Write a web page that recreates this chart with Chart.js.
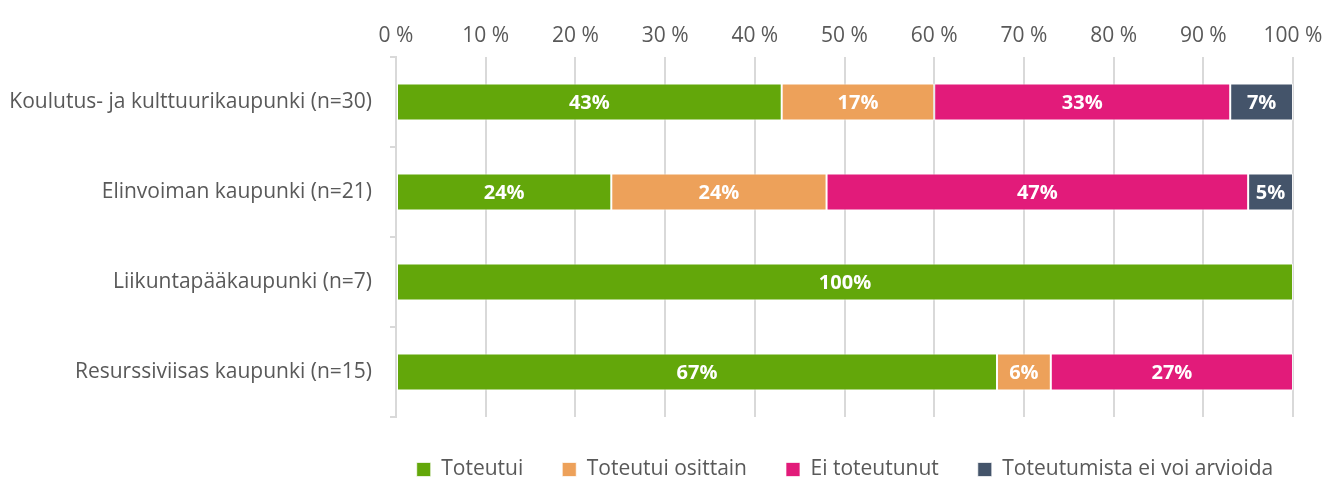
<!DOCTYPE html>
<html>
<head>
<meta charset="utf-8">
<script src="https://cdn.jsdelivr.net/npm/chart.js@4"></script>
<style>
    body { margin: 0; background: #fff; }
</style>
</head>
<body>
<canvas id="chart" width="1326" height="480"></canvas>
<script>
const categories = [
    "Koulutus- ja kulttuurikaupunki (n=30)",
    "Elinvoiman kaupunki (n=21)",
    "Liikuntapääkaupunki (n=7)",
    "Resurssiviisas kaupunki (n=15)",
];

const seriesNames = ["Toteutui", "Toteutui osittain", "Ei toteutunut", "Toteutumista ei voi arvioida"];

const toteutui = [43, 24, 100, 67];
const osittain = [17, 24, 0, 6];
const eiToteutunut = [33, 47, 0, 27];
const eiArvioida = [7, 5, 0, 0];

const xTicks = [0, 10, 20, 30, 40, 50, 60, 70, 80, 90, 100];

const colors = ["#63a70a", "#eda15a", "#e21b7a", "#44546a"];
const textColor = "#595959";
const fontFamily = "'Open Sans', sans-serif";

// white value labels in the middle of each segment
const barLabels = {
    id: "barLabels",
    afterDatasetsDraw(chart) {
        const ctx = chart.ctx;
        ctx.save();
        ctx.font = "bold 20px " + fontFamily;
        ctx.fillStyle = "#ffffff";
        ctx.textAlign = "center";
        ctx.textBaseline = "middle";
        chart.data.datasets.forEach((ds, i) => {
            const meta = chart.getDatasetMeta(i);
            meta.data.forEach((bar, j) => {
                const value = ds.data[j];
                if (!value) {
                    return;
                }
                const center = bar.getCenterPoint();
                ctx.fillText(value + "%", center.x, center.y + 1);
            });
        });
        ctx.restore();
    },
};

// one legend row under the plot, a bit wider than the plot area
const legendRow = {
    id: "legendRow",
    afterInit(chart) {
        const legend = chart.legend;
        const fit = legend.fit.bind(legend);
        const draw = legend.draw.bind(legend);
        legend.fit = function () {
            this.maxWidth = 1326;
            fit();
            this.height = 63;
        };
        legend.draw = function () {
            const left = this.left;
            const right = this.right;
            const top = this.top;
            this.left = 364;
            this.right = 1326;
            this.top = top + 3;
            draw();
            this.left = left;
            this.right = right;
            this.top = top;
        };
    },
};

const seriesData = [toteutui, osittain, eiToteutunut, eiArvioida];

new Chart(document.getElementById("chart"), {
    type: "bar",
    data: {
        labels: categories,
        datasets: seriesNames.map((name, i) => ({
            label: name,
            data: seriesData[i],
            backgroundColor: colors[i],
            borderColor: "rgba(255,255,255,0.7)",
            borderWidth: 1,
            borderSkipped: false,
            barPercentage: 0.41,
            categoryPercentage: 1,
        })),
    },
    options: {
        indexAxis: "y",
        responsive: false,
        animation: false,
        layout: {
            padding: { left: 0, right: 33, top: 0, bottom: 0 },
        },
        plugins: {
            legend: {
                position: "bottom",
                fullSize: false,
                labels: {
                    boxWidth: 14,
                    boxHeight: 14,
                    padding: 39,
                    color: textColor,
                    font: { family: fontFamily, size: 21 },
                },
            },
            tooltip: { enabled: false },
        },
        scales: {
            x: {
                position: "top",
                stacked: true,
                min: 0,
                max: 100,
                afterBuildTicks: scale => {
                    scale.ticks = xTicks.map(v => ({ value: v }));
                },
                afterFit: scale => {
                    scale.height = 57;
                    scale.paddingLeft = 0;
                    scale.paddingRight = 0;
                },
                ticks: {
                    color: textColor,
                    font: { family: fontFamily, size: 21 },
                    padding: 8,
                    callback: value => value + " %",
                },
                grid: {
                    color: "#d9d9d9",
                    lineWidth: 2,
                    drawTicks: false,
                },
                border: { display: false },
            },
            y: {
                stacked: true,
                afterFit: scale => {
                    scale.width = 396;
                },
                ticks: {
                    color: textColor,
                    font: { family: fontFamily, size: 21 },
                    padding: 18,
                },
                grid: {
                    drawOnChartArea: false,
                    drawTicks: true,
                    tickLength: 6,
                    color: "#d9d9d9",
                    lineWidth: 2,
                },
                border: { display: true, color: "#d9d9d9", width: 2 },
            },
        },
    },
    plugins: [barLabels, legendRow],
});
</script>
</body>
</html>
